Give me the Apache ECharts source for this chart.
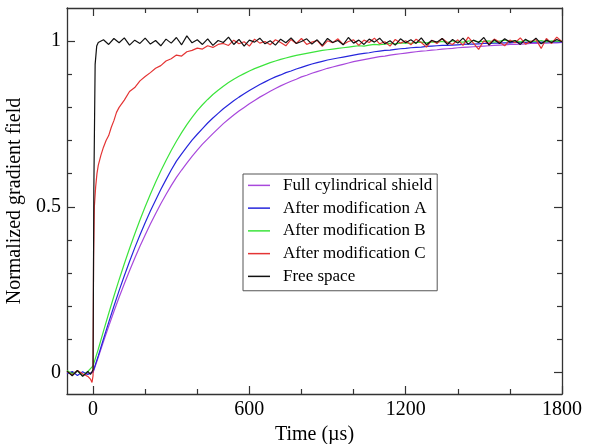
<!DOCTYPE html>
<html>
<head>
<meta charset="utf-8">
<script src="https://cdn.jsdelivr.net/npm/echarts@6/dist/echarts.min.js"></script>
<style>
  html, body { margin: 0; padding: 0; background: #fff; }
  #chart { width: 591px; height: 444px; }
</style>
</head>
<body>
<div id="chart"></div>
<script>
// time axis for the three slow curves (us)
var tSlow = [-100, -80, -60, -40, -20, 0,
  20, 40, 60, 80, 100, 120, 140, 160, 180, 200, 220, 240, 260, 280, 300,
  320, 340, 360, 380, 400, 420, 440, 460, 480, 500,
  520, 540, 560, 580, 600, 620, 640, 660, 680, 700,
  720, 740, 760, 780, 800, 820, 840, 860, 880, 900,
  920, 940, 960, 980, 1000, 1020, 1040, 1060, 1080, 1100,
  1120, 1140, 1160, 1180, 1200, 1220, 1240, 1260, 1280, 1300,
  1320, 1340, 1360, 1380, 1400, 1420, 1440, 1460, 1480, 1500,
  1520, 1540, 1560, 1580, 1600, 1620, 1640, 1660, 1680, 1700,
  1720, 1740, 1760, 1780, 1800];

var fullShield = [0.002, -0.006, 0.004, -0.008, -0.004, 0.0,
  0.046, 0.093, 0.139, 0.184, 0.227, 0.268, 0.307, 0.345, 0.381, 0.415, 0.448, 0.479, 0.509, 0.537, 0.564,
  0.589, 0.611, 0.632, 0.652, 0.671, 0.689, 0.705, 0.721, 0.736, 0.751,
  0.764, 0.777, 0.789, 0.800, 0.811, 0.821, 0.831, 0.840, 0.849, 0.857,
  0.865, 0.872, 0.879, 0.885, 0.892, 0.897, 0.903, 0.908, 0.913, 0.918,
  0.922, 0.926, 0.930, 0.934, 0.938, 0.941, 0.944, 0.947, 0.950, 0.953,
  0.955, 0.958, 0.960, 0.962, 0.964, 0.966, 0.968, 0.970, 0.971, 0.973,
  0.974, 0.976, 0.977, 0.978, 0.980, 0.981, 0.982, 0.983, 0.984, 0.985,
  0.986, 0.987, 0.988, 0.989, 0.990, 0.990, 0.991, 0.992, 0.993, 0.993,
  0.994, 0.994, 0.995, 0.995, 0.996];

var modA = [-0.004, 0.003, -0.009, 0.002, -0.006, 0.002,
  0.050, 0.101, 0.151, 0.200, 0.247, 0.292, 0.335, 0.376, 0.415, 0.452, 0.487, 0.520, 0.552, 0.582, 0.611,
  0.638, 0.660, 0.681, 0.701, 0.719, 0.736, 0.753, 0.768, 0.782, 0.796,
  0.808, 0.820, 0.831, 0.841, 0.851, 0.860, 0.869, 0.877, 0.885, 0.892,
  0.898, 0.905, 0.910, 0.916, 0.921, 0.926, 0.931, 0.935, 0.939, 0.943,
  0.946, 0.949, 0.952, 0.955, 0.958, 0.961, 0.963, 0.965, 0.968, 0.970,
  0.972, 0.973, 0.975, 0.977, 0.978, 0.980, 0.981, 0.982, 0.984, 0.985,
  0.986, 0.987, 0.987, 0.988, 0.989, 0.990, 0.991, 0.991, 0.992, 0.993,
  0.993, 0.994, 0.994, 0.995, 0.995, 0.996, 0.996, 0.996, 0.997, 0.997,
  0.997, 0.998, 0.998, 0.998, 0.998];

var modB = [0.006, -0.004, 0.004, -0.010, 0.003, 0.020,
  0.070, 0.125, 0.178, 0.230, 0.280, 0.328, 0.374, 0.418, 0.460, 0.500, 0.538, 0.574, 0.608, 0.640, 0.670,
  0.698, 0.724, 0.748, 0.770, 0.790, 0.808, 0.824, 0.839, 0.852, 0.864,
  0.875, 0.885, 0.894, 0.902, 0.910, 0.917, 0.923, 0.929, 0.935, 0.940,
  0.945, 0.949, 0.953, 0.957, 0.960, 0.963, 0.966, 0.969, 0.972, 0.974,
  0.976, 0.978, 0.980, 0.982, 0.984, 0.986, 0.985, 0.988, 0.990, 0.989,
  0.991, 0.993, 0.992, 0.994, 0.995, 0.993, 0.996, 0.997, 0.995, 0.998,
  0.997, 0.999, 0.996, 1.001, 0.998, 0.997, 1.000, 1.002, 0.998, 0.999,
  1.001, 0.997, 1.000, 1.003, 0.999, 1.001, 0.998, 1.002, 1.000, 0.999,
  1.002, 0.998, 1.001, 1.000, 0.999];

var tRed = [-100, -80, -60, -40, -20, -10, -4, 0, 2, 5, 10, 15, 20, 30, 40, 50, 60, 70, 80, 90, 100,
  120, 140, 160, 180, 200, 220, 240, 260, 280, 300,
  320, 340, 360, 380, 400, 420, 440, 460, 480, 500,
  520, 540, 560, 580, 600, 620, 640, 660, 680, 700,
  720, 740, 760, 780, 800, 820, 840, 860, 880, 900,
  920, 940, 960, 980, 1000, 1020, 1040, 1060, 1080, 1100,
  1120, 1140, 1160, 1180, 1200, 1220, 1240, 1260, 1280, 1300,
  1320, 1340, 1360, 1380, 1400, 1420, 1440, 1460, 1480, 1500,
  1520, 1540, 1560, 1580, 1600, 1620, 1640, 1660, 1680, 1700,
  1720, 1740, 1760, 1780, 1800];

var modC = [0.003, -0.008, 0.006, -0.004, -0.012, -0.020, -0.030, -0.010, 0.350, 0.500, 0.560, 0.600, 0.625, 0.655, 0.680, 0.700, 0.715, 0.740, 0.760, 0.785, 0.800,
  0.822, 0.848, 0.860, 0.880, 0.893, 0.905, 0.918, 0.926, 0.940, 0.947,
  0.958, 0.955, 0.968, 0.972, 0.979, 0.976, 0.986, 0.981, 0.990, 0.993,
  0.987, 1.003, 0.992, 0.998, 0.985, 1.006, 0.994, 0.999, 0.989, 1.004,
  0.996, 0.986, 1.005, 0.993, 1.008, 0.990, 0.997, 1.002, 0.984, 1.001,
  0.995, 1.007, 0.990, 0.999, 1.004, 0.987, 1.003, 0.996, 1.009, 0.992,
  0.998, 0.985, 1.005, 0.994, 1.001, 0.989, 1.006, 0.996, 0.982, 1.003,
  0.993, 1.008, 0.996, 0.990, 1.004, 0.987, 1.012, 0.994, 0.975, 1.001,
  0.992, 1.006, 0.997, 0.986, 1.003, 0.995, 1.010, 0.991, 0.999, 1.005,
  0.978, 1.008, 0.993, 1.012, 0.998];

var tFree = [-100, -80, -60, -40, -20, -10, 0, 3, 8, 14, 20,
  40, 60, 80, 100, 120, 140, 160, 180, 200, 220,
  240, 260, 280, 300, 320, 340, 360, 380, 400, 420,
  440, 460, 480, 500, 520, 540, 560, 580, 600, 620,
  640, 660, 680, 700, 720, 740, 760, 780, 800, 820,
  840, 860, 880, 900, 920, 940, 960, 980, 1000, 1020,
  1040, 1060, 1080, 1100, 1120, 1140, 1160, 1180, 1200, 1220,
  1240, 1260, 1280, 1300, 1320, 1340, 1360, 1380, 1400, 1420,
  1440, 1460, 1480, 1500, 1520, 1540, 1560, 1580, 1600, 1620,
  1640, 1660, 1680, 1700, 1720, 1740, 1760, 1780, 1800];

var freeSpace = [0.004, -0.010, 0.006, -0.012, 0.003, -0.006, 0.008, 0.550, 0.930, 0.985, 0.996,
  1.004, 0.990, 1.008, 0.995, 1.010, 0.988, 1.003, 0.993, 1.009, 0.991,
  1.002, 0.986, 1.006, 0.994, 1.011, 0.989, 1.016, 0.995, 1.004, 0.990,
  1.007, 0.987, 1.002, 0.996, 1.012, 0.990, 1.005, 0.985, 1.003, 0.997,
  1.009, 0.992, 1.001, 0.988, 1.006, 0.995, 1.010, 0.993, 0.999, 1.007,
  0.991, 1.004, 0.987, 1.008, 0.996, 1.002, 0.989, 1.011, 0.994, 1.003,
  0.990, 1.006, 0.997, 1.009, 0.992, 1.001, 0.988, 1.007, 0.995, 1.004,
  0.993, 1.010, 0.989, 1.002, 0.997, 1.008, 0.990, 1.005, 0.994, 1.009,
  0.991, 1.003, 0.996, 1.011, 0.988, 1.004, 0.993, 1.007, 0.997, 1.002,
  0.990, 1.006, 0.995, 1.009, 0.992, 1.003, 0.996, 1.005, 0.998];

var xMajor = [0, 600, 1200, 1800];
var xMinor = [200, 400, 800, 1000, 1400, 1600];
var yMajor = [0, 0.5, 1];
var yMinor = [0.1, 0.2, 0.3, 0.4, 0.6, 0.7, 0.8, 0.9];

var names = ['Full cylindrical shield', 'After modification A', 'After modification B', 'After modification C', 'Free space'];
var colors = ['#a848dc', '#2626dc', '#3ce43c', '#e43434', '#111111'];

function pairs(ts, vs) {
    var out = [];
    for (var i = 0; i < ts.length; i++) {
        out.push([ts[i], vs[i]]);
    }
    return out;
}

var serif = 'Liberation Serif';
var frame = { show: true, onZero: false, lineStyle: { color: '#333', width: 1.3 } };
var noLine = { show: false, onZero: false };

function plainLabel(v) {
    return String(v);
}

function xAxis(pos, ticks, len, withLine, withLabel) {
    return {
        type: 'value', position: pos, min: -100, max: 1800,
        axisLine: withLine ? frame : noLine,
        axisTick: { show: true, inside: true, length: len, customValues: ticks, lineStyle: { color: '#333', width: 1.2 } },
        axisLabel: withLabel ? { show: true, customValues: ticks, formatter: plainLabel, margin: 6, color: '#000', fontFamily: serif, fontSize: 20 } : { show: false },
        splitLine: { show: false }
    };
}
function yAxis(pos, ticks, len, withLine, withLabel) {
    return {
        type: 'value', position: pos, min: -0.065, max: 1.1,
        axisLine: withLine ? frame : noLine,
        axisTick: { show: true, inside: true, length: len, customValues: ticks, lineStyle: { color: '#333', width: 1.2 } },
        axisLabel: withLabel ? { show: true, customValues: ticks, formatter: plainLabel, margin: 6, color: '#000', fontFamily: serif, fontSize: 20 } : { show: false },
        splitLine: { show: false }
    };
}

var xs = [
    xAxis('bottom', xMajor, 8, true, true),
    xAxis('bottom', xMinor, 5, false, false),
    xAxis('top', xMajor, 8, true, false),
    xAxis('top', xMinor, 5, false, false)
];
xs[0].name = 'Time (\u00b5s)';
xs[0].nameLocation = 'middle';
xs[0].nameGap = 28;
xs[0].nameTextStyle = { fontFamily: serif, fontSize: 20, color: '#000' };

var ys = [
    yAxis('left', yMajor, 8, true, true),
    yAxis('left', yMinor, 5, false, false),
    yAxis('right', yMajor, 8, true, false),
    yAxis('right', yMinor, 5, false, false)
];
ys[0].name = 'Normalized gradient field';
ys[0].nameLocation = 'middle';
ys[0].nameGap = 36;
ys[0].nameTextStyle = { fontFamily: serif, fontSize: 20, color: '#000' };

var seriesData = [
    pairs(tSlow, fullShield),
    pairs(tSlow, modA),
    pairs(tSlow, modB),
    pairs(tRed, modC),
    pairs(tFree, freeSpace)
];

var series = [];
for (var i = 0; i < names.length; i++) {
    series.push({
        name: names[i],
        type: 'line',
        data: seriesData[i],
        symbol: 'none',
        color: colors[i],
        lineStyle: { width: 1.2, color: colors[i] },
        xAxisIndex: 0,
        yAxisIndex: 0
    });
}

var option = {
    animation: false,
    backgroundColor: '#fff',
    grid: { left: 67, right: 29, top: 8, bottom: 50, containLabel: false, outerBoundsMode: 'none' },
    legend: {
        data: names,
        orient: 'vertical',
        left: 243,
        top: 174,
        selectedMode: false,
        icon: 'rect',
        itemWidth: 22,
        itemHeight: 1.5,
        itemGap: 0,
        padding: [0, 5, 3, 5],
        borderColor: '#555',
        borderWidth: 1,
        textStyle: { fontFamily: serif, fontSize: 17, color: '#000', lineHeight: 22.75, padding: [0, 0, 0, 8] }
    },
    xAxis: xs,
    yAxis: ys,
    series: series
};

var chart = echarts.init(document.getElementById('chart'));
chart.setOption(option);
</script>
</body>
</html>
